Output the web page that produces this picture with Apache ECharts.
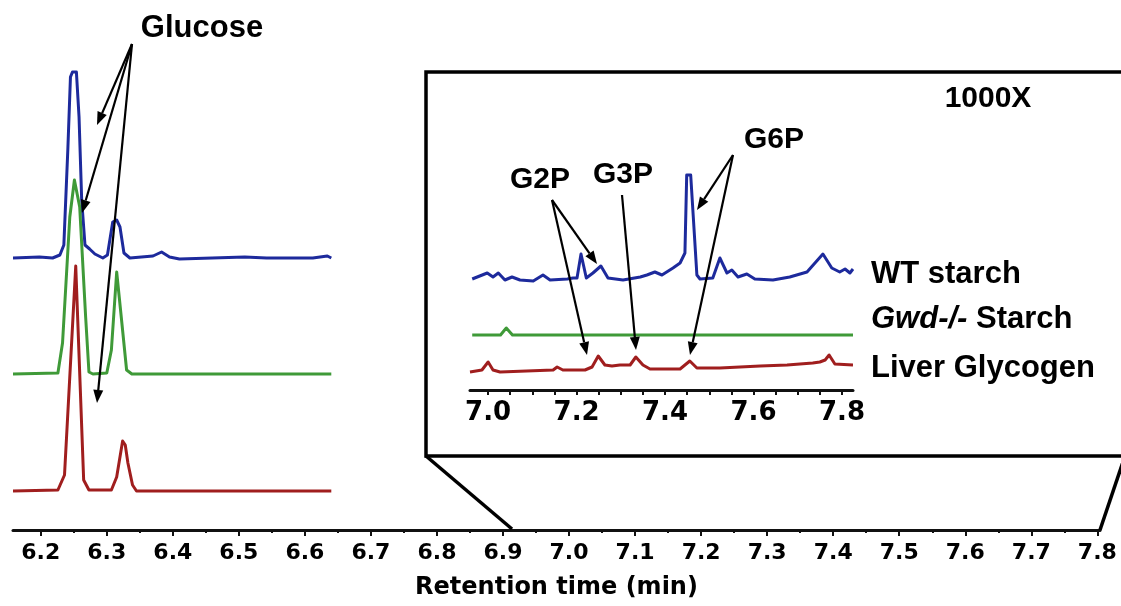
<!DOCTYPE html>
<html>
<head>
<meta charset="utf-8">
<script src="https://cdn.jsdelivr.net/npm/echarts@6/dist/echarts.min.js"></script>
<style>
html, body { margin: 0; background: #fff; }
#chart { width: 1121px; height: 606px; }
</style>
</head>
<body>
<div id="chart"></div>
<script>
// main chromatogram (glucose region), retention time in min / signal in arbitrary units
var wtMainTime = [6.158, 6.198, 6.218, 6.229, 6.235, 6.241, 6.245, 6.248, 6.254, 6.258, 6.262, 6.267, 6.274, 6.282, 6.294, 6.301, 6.309, 6.315, 6.320, 6.326, 6.335, 6.370, 6.383, 6.395, 6.410, 6.509, 6.542, 6.612, 6.634, 6.640];
var wtMainSignal = [0, 1, 0, 3, 13, 108, 181, 186, 186, 141, 58, 13, 9, 4, 0, 3, 36, 38, 31, 5, 0, 2, 6, 1, -1, 1, 0, 0, 2, 0];
var gwdMainTime = [6.158, 6.226, 6.233, 6.244, 6.251, 6.259, 6.268, 6.273, 6.279, 6.300, 6.307, 6.315, 6.323, 6.330, 6.338, 6.640];
var gwdMainSignal = [0, 1, 31, 157, 194, 167, 57, 2, 0, 1, 24, 102, 50, 4, 0, 0];
var liverMainTime = [6.158, 6.226, 6.236, 6.253, 6.265, 6.273, 6.307, 6.315, 6.324, 6.328, 6.332, 6.339, 6.345, 6.640];
var liverMainSignal = [0, 1, 16, 225, 11, 1, 1, 14, 50, 46, 28, 6, 0, 0];

// 1000X inset (phosphate region)
var wtInsetTime = [6.964, 6.998, 7.011, 7.023, 7.038, 7.054, 7.072, 7.102, 7.124, 7.140, 7.179, 7.192, 7.201, 7.210, 7.222, 7.237, 7.255, 7.271, 7.305, 7.344, 7.359, 7.377, 7.393, 7.418, 7.434, 7.445, 7.449, 7.458, 7.472, 7.479, 7.508, 7.524, 7.540, 7.551, 7.565, 7.585, 7.603, 7.644, 7.682, 7.721, 7.757, 7.777, 7.795, 7.807, 7.818, 7.825];
var wtInsetSignal = [1, 7, 3, 7, 0, 3, 0, -1, 5, 0, 1, 2, 2, 26, 2, 7, 14, 2, 0, 3, 5, 8, 5, 12, 17, 27, 105, 105, 5, 1, 2, 22, 7, 10, 3, 6, 1, 0, 3, 8, 26, 12, 8, 11, 7, 11];
var gwdInsetTime = [6.964, 7.028, 7.041, 7.055, 7.825];
var gwdInsetSignal = [0, 0, 7, 0, 0];
var liverInsetTime = [6.959, 6.986, 7.000, 7.011, 7.027, 7.147, 7.156, 7.169, 7.219, 7.235, 7.249, 7.264, 7.280, 7.298, 7.321, 7.334, 7.350, 7.366, 7.434, 7.456, 7.472, 7.524, 7.615, 7.676, 7.734, 7.750, 7.762, 7.771, 7.784, 7.825];
var liverInsetSignal = [0, 2, 10, 2, 0, 2, 5, 2, 2, 5, 16, 7, 6, 7, 7, 15, 7, 3, 3, 11, 4, 4, 6, 7, 9, 10, 12, 17, 8, 7];

// vertical stacking of the traces
var mainOffsets = [272, 156, 39];
var insetOffsets = [110, 55, 18];

var mainTicks = [6.2, 6.3, 6.4, 6.5, 6.6, 6.7, 6.8, 6.9, 7.0, 7.1, 7.2, 7.3, 7.4, 7.5, 7.6, 7.7, 7.8];
var mainMinorTicks = [6.25, 6.35, 6.45, 6.55, 6.65, 6.75, 6.85, 6.95, 7.05, 7.15, 7.25, 7.35, 7.45, 7.55, 7.65, 7.75];
var insetTicks = [7.0, 7.05, 7.1, 7.15, 7.2, 7.25, 7.3, 7.35, 7.4, 7.45, 7.5, 7.55, 7.6, 7.65, 7.7, 7.75, 7.8];
var insetLabels = [7.0, 7.2, 7.4, 7.6, 7.8];

var colors = ['#1d2a9c', '#3f9a38', '#a01e1e'];

function pairs(t, s, off) {
    return t.map(function(v, i) {
        return [v, s[i] + off];
    });
}

function trace(t, s, off, color, xi, yi) {
    return {
        type: 'line',
        xAxisIndex: xi,
        yAxisIndex: yi,
        data: pairs(t, s, off),
        showSymbol: false,
        silent: true,
        lineStyle: { color: color, width: 3, join: 'round' },
        z: 3
    };
}

// black annotation arrow: shaft + filled head
function arrow(x1, y1, x2, y2) {
    var dx = x2 - x1, dy = y2 - y1;
    var len = Math.sqrt(dx * dx + dy * dy);
    var ux = dx / len, uy = dy / len;
    var hl = 13, hw = 5;
    var bx = x2 - ux * hl, by = y2 - uy * hl;
    return [{
        type: 'line',
        shape: { x1: x1, y1: y1, x2: bx, y2: by },
        style: { stroke: '#000', lineWidth: 2.2 },
        z: 100
    }, {
        type: 'polygon',
        shape: { points: [[x2, y2], [bx - uy * hw, by + ux * hw], [bx + uy * hw, by - ux * hw]] },
        style: { fill: '#000' },
        z: 100
    }];
}

var labelFont = 'Liberation Sans, Arial, sans-serif';

function label(text, x, y, size, align, rich) {
    return {
        type: 'text',
        x: x,
        y: y,
        z: 100,
        style: {
            text: text,
            fill: '#000',
            font: 'bold ' + size + 'px ' + labelFont,
            align: align || 'center',
            verticalAlign: 'middle',
            rich: rich
        }
    };
}

var chart = echarts.init(document.getElementById('chart'));

var graphics = [{
    type: 'rect',
    shape: { x: 426, y: 72, width: 740, height: 384 },
    style: { fill: 'none', stroke: '#000', lineWidth: 3.5 },
    z: 90
}, {
    type: 'line',
    shape: { x1: 426, y1: 456, x2: 512, y2: 529 },
    style: { stroke: '#000', lineWidth: 3.5 },
    z: 90
}, {
    type: 'line',
    shape: { x1: 1125, y1: 456, x2: 1100, y2: 530 },
    style: { stroke: '#000', lineWidth: 3.5 },
    z: 90
},
    label('Glucose', 202, 28, 31),
    label('1000X', 988, 99, 30),
    label('G2P', 540, 180, 30),
    label('G3P', 623, 175, 30),
    label('G6P', 774, 140, 30),
    label('WT starch', 871, 274, 31, 'left'),
    label('{i|Gwd-/-} Starch', 871, 319, 31, 'left', {
        i: { fontStyle: 'italic', fontWeight: 'bold', fontSize: 31, fontFamily: labelFont }
    }),
    label('Liver Glycogen', 871, 368, 31, 'left')
];

graphics = graphics
    .concat(arrow(132, 44, 97, 125))
    .concat(arrow(132, 44, 82, 213))
    .concat(arrow(132, 44, 97, 403))
    .concat(arrow(552, 200, 597, 264))
    .concat(arrow(552, 200, 587, 355))
    .concat(arrow(622, 195, 636, 350))
    .concat(arrow(733, 155, 697, 210))
    .concat(arrow(733, 155, 690, 355));

var axisFont = {
    fontFamily: 'DejaVu Sans',
    fontWeight: 'bold',
    color: '#000'
};

option = {
    backgroundColor: '#fff',
    animation: false,
    grid: [
        { left: 13, right: 21, top: 50, bottom: 76 },
        { left: 470, right: 268, top: 80, bottom: 216 }
    ],
    xAxis: [{
        gridIndex: 0,
        type: 'value',
        min: 6.158,
        max: 7.804,
        position: 'bottom',
        axisLine: { lineStyle: { color: '#111', width: 3 } },
        axisTick: { customValues: mainTicks, length: 6, lineStyle: { color: '#111', width: 2 } },
        axisLabel: Object.assign({
            customValues: mainTicks,
            fontSize: 22,
            margin: 12,
            formatter: function(v) { return v.toFixed(1); }
        }, axisFont),
        splitLine: { show: false },
        name: 'Retention time (min)',
        nameLocation: 'middle',
        nameGap: 46,
        nameTextStyle: Object.assign({ fontSize: 24 }, axisFont)
    }, {
        gridIndex: 0,
        type: 'value',
        min: 6.158,
        max: 7.804,
        position: 'bottom',
        axisLine: { show: false },
        axisTick: { customValues: mainMinorTicks, length: 3, lineStyle: { color: '#111', width: 2 } },
        axisLabel: { show: false },
        splitLine: { show: false }
    }, {
        gridIndex: 1,
        type: 'value',
        min: 6.959,
        max: 7.825,
        position: 'bottom',
        axisLine: { lineStyle: { color: '#111', width: 3 } },
        axisTick: { customValues: insetTicks, length: 5, lineStyle: { color: '#111', width: 2 } },
        axisLabel: Object.assign({
            customValues: insetLabels,
            fontSize: 26,
            margin: 10,
            formatter: function(v) { return v.toFixed(1); }
        }, axisFont),
        splitLine: { show: false }
    }],
    yAxis: [
        { gridIndex: 0, type: 'value', min: 0, max: 480, show: false },
        { gridIndex: 1, type: 'value', min: 0, max: 310, show: false }
    ],
    graphic: graphics,
    series: [
        trace(wtMainTime, wtMainSignal, mainOffsets[0], colors[0], 0, 0),
        trace(gwdMainTime, gwdMainSignal, mainOffsets[1], colors[1], 0, 0),
        trace(liverMainTime, liverMainSignal, mainOffsets[2], colors[2], 0, 0),
        trace(wtInsetTime, wtInsetSignal, insetOffsets[0], colors[0], 2, 1),
        trace(gwdInsetTime, gwdInsetSignal, insetOffsets[1], colors[1], 2, 1),
        trace(liverInsetTime, liverInsetSignal, insetOffsets[2], colors[2], 2, 1)
    ]
};

chart.setOption(option);

window.addEventListener('resize', function() {
    chart.resize()
})
</script>
</body>
</html>
